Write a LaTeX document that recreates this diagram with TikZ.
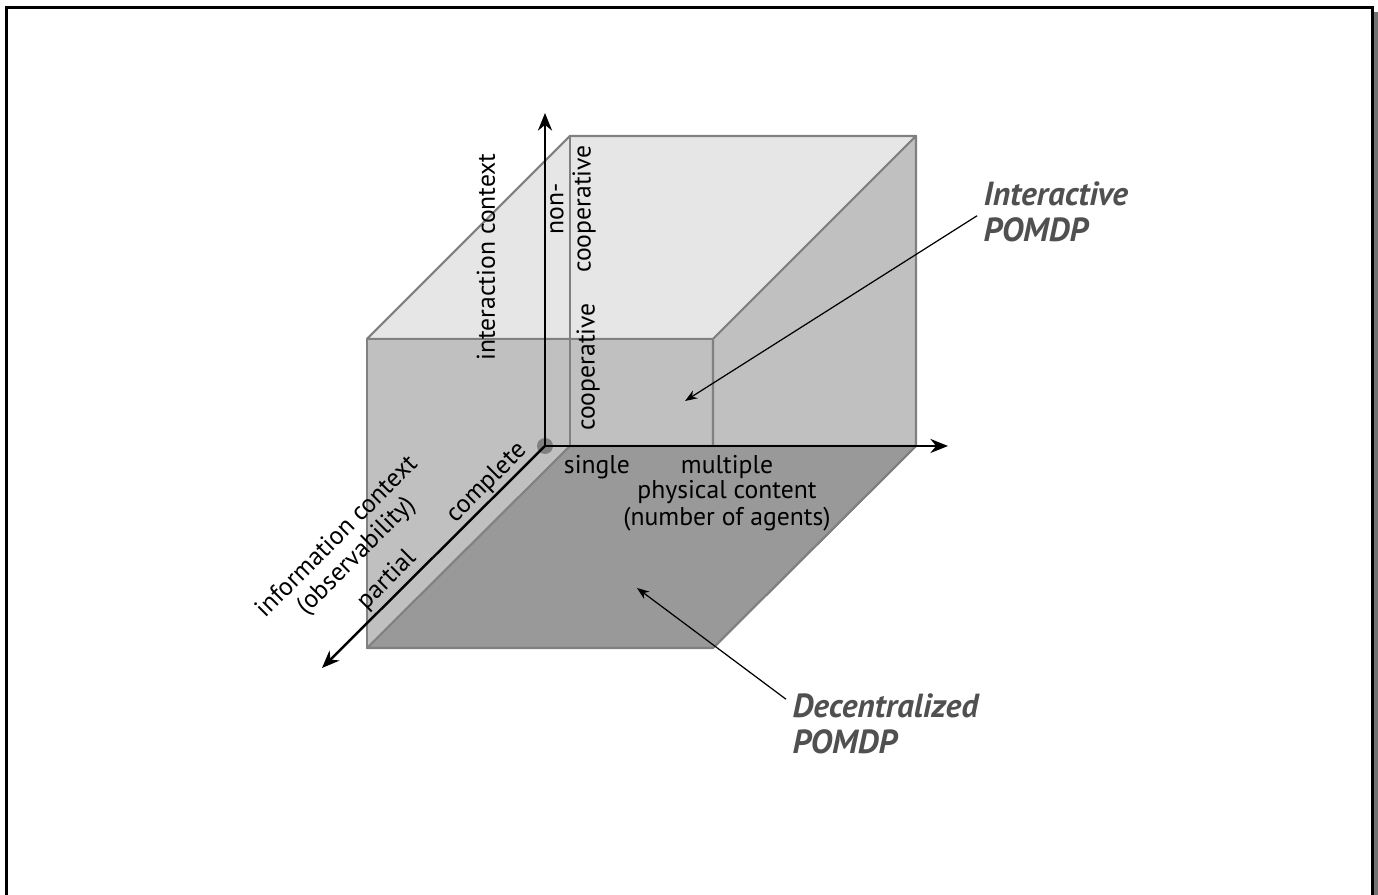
\documentclass[tikz,border=0pt]{standalone}
\usepackage{fontspec}
\setmainfont{PT Sans}
\usetikzlibrary{arrows.meta}
\definecolor{topgray}{HTML}{E6E6E6}
\definecolor{facegray}{HTML}{C0C0C0}
\definecolor{floorgray}{HTML}{999999}
\definecolor{edgegray}{HTML}{808080}
\definecolor{textgray}{HTML}{505050}

\begin{document}
\begin{tikzpicture}[x=0.01cm, y=-0.01cm,
    face/.style={draw=edgegray, line width=0.6pt, line join=round},
    axis/.style={-{Stealth[length=5pt,width=4pt]}, line width=0.7pt},
    lbl/.style={font=\fontsize{7.3}{7.7}\selectfont, inner sep=0pt, align=center},
    callout/.style={font=\fontsize{9.5}{10.2}\selectfont\bfseries\itshape, text=textgray,
      align=left, inner sep=0pt, anchor=west},
    pointer/.style={-{Stealth[length=3.5pt,width=2.6pt]}, line width=0.35pt}]
    \useasboundingbox (0,0) rectangle (1378,895);
    % frame with its shadow
    \fill[white] (0,0) rectangle (1378,895);
    \fill[black!55] (1372,12) rectangle (1378,900);
    \draw[line width=0.6pt, fill=white] (6.5,7.5) rectangle (1372.5,905);

    % the box
    \filldraw[face, fill=topgray] (367,339) -- (570,136) -- (916,136) -- (713,339) -- cycle;
    \filldraw[face, fill=facegray] (367,339) rectangle (713,648);
    \filldraw[face, fill=facegray] (713,339) -- (916,136) -- (916,446) -- (713,648) -- cycle;
    \draw[face] (570,136) -- (570,446);
    \filldraw[face, fill=floorgray] (570,446) -- (916,446) -- (713,648) -- (367,648) -- cycle;

    % axes
    \coordinate (O) at (545,446);
    \coordinate (X) at (948,446);
    \coordinate (Y) at (545,113);
    \coordinate (Z) at (322,668);
    \node (dot) at (O) [circle, fill=edgegray, minimum size=16*0.01cm, inner sep=0pt] {};
    \draw[axis] (O) -- (X);
    \draw[axis] (O) -- (Y);
    \draw[axis] (O) -- (Z);

    % axis labels
    \node (inter) at (486,257) [lbl, rotate=90] {interaction context};
    \node (noncoop) at (573,209) [lbl, rotate=90] {non-\\cooperative};
    \node (coop) at (588,367) [lbl, rotate=90] {cooperative};
    \node (single) at (597,467) [lbl] {single};
    \node (multi) at (727,467) [lbl] {multiple};
    \node (phys) at (727,506) [lbl] {physical content\\(number of agents)};
    \node (compl) at (487,483) [lbl, rotate=45] {complete};
    \node (part) at (387,580) [lbl, rotate=45] {partial};
    \node (info) at (347,547) [lbl, rotate=45] {information context\\(observability)};

    % call-outs
    \coordinate (ipt) at (685,401);
    \coordinate (dpt) at (637,588);
    \node (ipom) at (983,212) [callout] {Interactive\\POMDP};
    \node (dpom) at (792,724) [callout] {Decentralized\\POMDP};
    \draw[pointer, shorten <=2pt] (ipom.west) -- (ipt);
    \draw[pointer] ([shift={(-6,6)}]dpom.north west) -- (dpt);
\end{tikzpicture}
\end{document}
